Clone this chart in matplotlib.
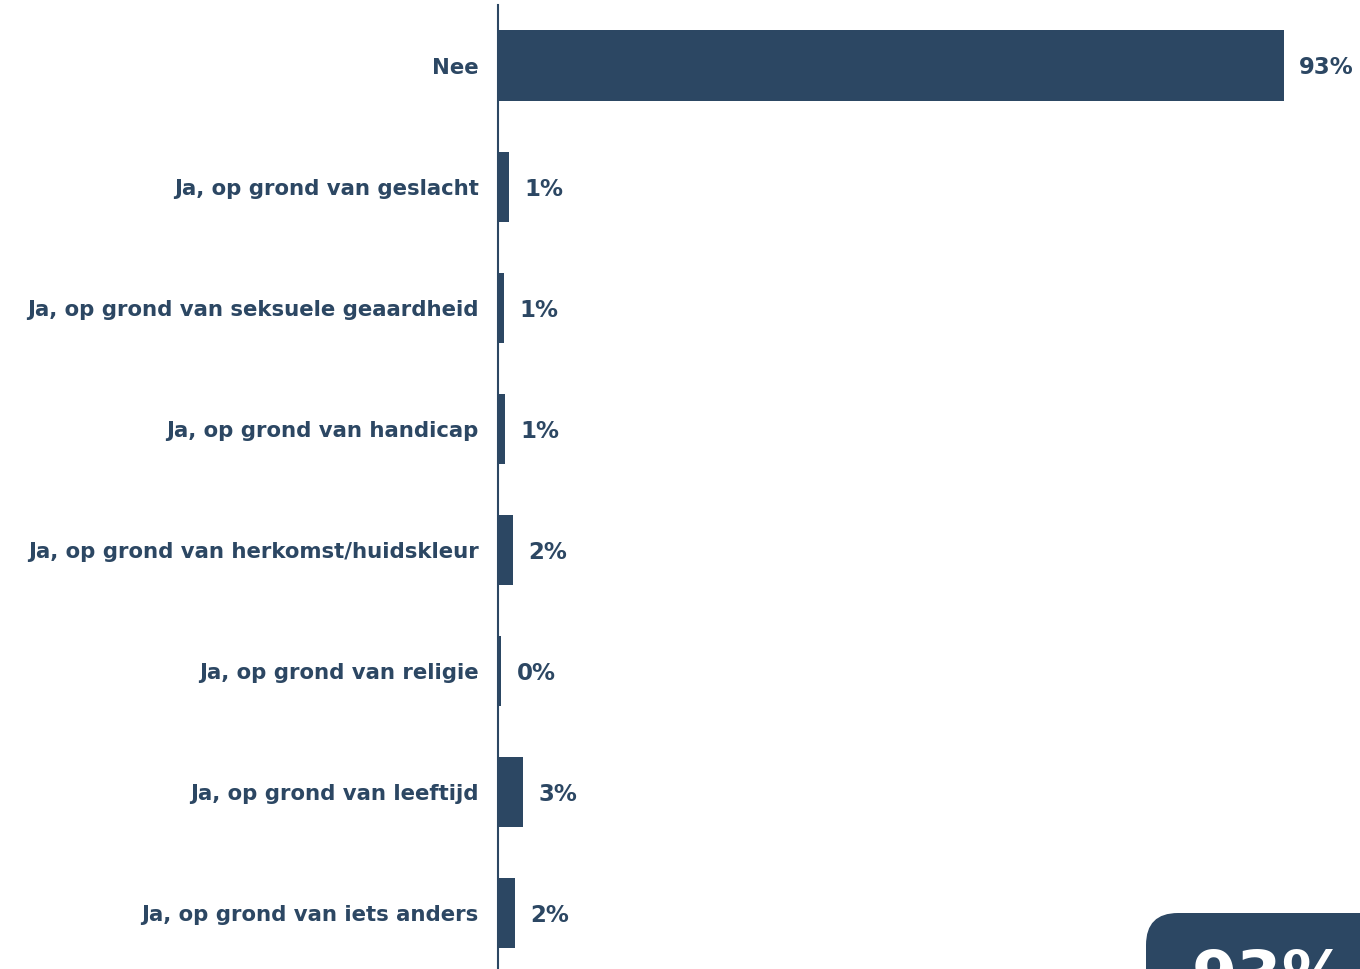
import matplotlib.pyplot as plt
from matplotlib.patches import FancyBboxPatch

# answer categories and shares (%)
categories = [
    "Nee",
    "Ja, op grond van geslacht",
    "Ja, op grond van seksuele geaardheid",
    "Ja, op grond van handicap",
    "Ja, op grond van herkomst/huidskleur",
    "Ja, op grond van religie",
    "Ja, op grond van leeftijd",
    "Ja, op grond van iets anders",
]
values = [93, 1.3, 0.7, 0.8, 1.8, 0.4, 3.0, 2.0]
highlight = "93%"

navy = "#2c4763"
plt.rcParams['font.family'] = ['DejaVu Sans']

fig = plt.figure(figsize=(13.6, 9.69), dpi=100)
ax = fig.add_axes([498 / 1360, 0, 862 / 1360, 964 / 969])

ypos = list(range(len(categories)))
ax.barh(ypos, values, height=0.58, color=navy)
for y, v in zip(ypos, values):
    ax.text(v + 1.8, y + 0.02, f"{v:.0f}%", va='center', ha='left',
            fontsize=16.5, fontweight='bold', color=navy)

ax.set_yticks(ypos)
ax.set_yticklabels(categories, fontsize=15.3, fontweight='bold', color=navy)
ax.tick_params(axis='y', length=0, pad=14)
ax.set_xticks([])
ax.set_xlim(0, 102)
ax.set_ylim(7.46, -0.5)
for s in ['top', 'right', 'bottom']:
    ax.spines[s].set_visible(False)
ax.spines['left'].set_color(navy)
ax.spines['left'].set_linewidth(1.5)

# rounded badge in the bottom right corner, cut off by the figure edge
# overlay axes in pixel units so the corner stays round
ov = fig.add_axes([0, 0, 1, 1], zorder=5)
ov.set_xlim(0, 1360)
ov.set_ylim(969, 0)
ov.axis('off')
ov.add_patch(FancyBboxPatch((1146, 913), 400, 200,
                            boxstyle="round,pad=0,rounding_size=32",
                            facecolor=navy, edgecolor='none'))
ov.text(1192, 998, highlight, color='white', fontsize=47,
        fontweight='bold', ha='left', va='baseline', clip_on=False)

fig.savefig("out.png", dpi=100)
